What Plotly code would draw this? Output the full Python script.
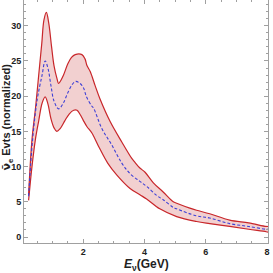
import plotly.graph_objects as go

# Upper edge of band
e_upper = [0.22, 0.33, 0.45, 0.55, 0.65, 0.72, 0.80, 0.88, 0.97, 1.05, 1.14, 1.20, 1.28, 1.36, 1.50, 1.62,
           1.74, 1.96, 2.06, 2.12, 2.23, 2.39, 2.55, 2.88, 3.26, 3.58, 3.69, 3.85, 4.02, 4.29, 4.61, 4.94,
           5.05, 5.48, 5.70, 6.13, 6.78, 7.40, 7.97, 8.03]
upper = [6.0, 13.8, 18.5, 23.0, 27.5, 30.8, 31.9, 30.3, 27.0, 24.3, 22.6, 21.8, 22.3, 23.0, 24.6, 25.5,
         25.9, 25.9, 25.3, 24.4, 23.5, 21.5, 19.6, 16.4, 13.5, 11.2, 10.6, 9.8, 9.2, 7.7, 6.4, 5.0,
         4.8, 4.1, 3.8, 3.3, 2.4, 2.0, 1.5, 1.5]

# Central (mean) curve
e_mean = [0.22, 0.35, 0.50, 0.66, 0.76, 0.85, 0.95, 1.05, 1.20, 1.35, 1.50, 1.65, 1.76, 1.90, 2.01, 2.07,
          2.12, 2.28, 2.34, 2.61, 2.93, 3.26, 3.53, 3.85, 4.07, 4.40, 4.61, 4.94, 5.05, 5.70, 6.13, 6.78,
          7.40, 7.97, 8.03]
mean = [5.8, 13.8, 19.5, 23.0, 25.0, 24.0, 21.5, 19.3, 18.2, 19.0, 20.5, 21.7, 22.1, 21.8, 21.2, 20.4,
        19.8, 18.6, 18.3, 15.4, 13.1, 10.5, 9.0, 7.9, 7.2, 5.9, 5.3, 4.2, 4.0, 3.0, 2.7, 1.9,
        1.5, 1.1, 1.1]

# Lower edge of band
e_lower = [0.22, 0.33, 0.44, 0.55, 0.66, 0.76, 0.85, 0.95, 1.05, 1.14, 1.25, 1.40, 1.55, 1.69, 1.80, 1.90,
           2.00, 2.12, 2.28, 2.50, 2.80, 3.10, 3.53, 3.85, 4.07, 4.50, 5.05, 5.70, 6.13, 6.78, 7.40, 7.97, 8.03]
lower = [5.2, 10.0, 13.8, 16.5, 19.0, 19.9, 18.9, 16.8, 15.5, 15.0, 15.4, 16.5, 17.5, 18.0, 18.0, 17.4,
         16.6, 15.7, 14.8, 12.9, 10.5, 8.8, 6.9, 6.0, 5.4, 4.0, 2.9, 2.2, 1.9, 1.5, 1.1, 0.75, 0.7]

x_ticks = [2, 4, 6, 8]
y_ticks = [0, 5, 10, 15, 20, 25, 30]

RED = "#c8262a"
fig = go.Figure()
fig.add_trace(go.Scatter(
    x=e_upper + e_lower[::-1], y=upper + lower[::-1],
    mode="lines", fill="toself", fillcolor="rgba(218,120,120,0.35)",
    line=dict(width=0, shape="spline"), hoverinfo="skip", showlegend=False))
fig.add_trace(go.Scatter(x=e_upper, y=upper, mode="lines", line=dict(color=RED, width=1.2, shape="spline"),
                         showlegend=False))
fig.add_trace(go.Scatter(x=e_lower, y=lower, mode="lines", line=dict(color=RED, width=1.2, shape="spline"),
                         showlegend=False))
fig.add_trace(go.Scatter(x=e_mean, y=mean, mode="lines",
                         line=dict(color="#3d3fd6", width=1.1, dash="3px,2px", shape="spline"),
                         showlegend=False))

axis_common = dict(showgrid=False, zeroline=False, showline=True, linecolor="#a0a0a0", linewidth=1,
                   mirror="allticks", ticks="inside", ticklen=4, tickcolor="#a0a0a0", automargin=False,
                   tickfont=dict(family="Liberation Sans", size=9, color="#222"))
fig.update_xaxes(range=[0.07, 8.03], tickvals=x_ticks, ticktext=[f"<b>{v}</b>" for v in x_ticks],
                 minor=dict(dtick=0.5, tick0=0, ticks="inside", ticklen=2, tickcolor="#a0a0a0"),
                 **axis_common)
fig.update_yaxes(range=[-0.85, 33.66], tickvals=y_ticks, ticktext=[f"<b>{v}</b>" for v in y_ticks],
                 minor=dict(dtick=1, tick0=0, ticks="inside", ticklen=2, tickcolor="#a0a0a0"),
                 **axis_common)

fig.add_annotation(text="<b><i>E</i><sub>ν</sub>(GeV)</b>", xref="paper", yref="paper",
                   x=0.5, y=-0.09, xanchor="center", yanchor="middle", showarrow=False,
                   font=dict(family="Liberation Sans", size=12, color="#222"))
fig.add_annotation(text="<b><span style='font-family:DejaVu Sans'>ν\u0304</span><sub>e</sub> Evts (normalized)</b>",
                   xref="paper", yref="paper",
                   x=-0.07, y=0.52, xanchor="center", yanchor="middle", textangle=-90, showarrow=False,
                   font=dict(family="Liberation Sans", size=11, color="#222"))

fig.update_layout(width=273, height=273, margin=dict(l=24, r=5, t=0, b=30),
                  plot_bgcolor="white", paper_bgcolor="white")
fig.write_html("out.html", config={"displayModeBar": False},
               post_script="document.body.style.margin='0';document.body.style.padding='0';")
